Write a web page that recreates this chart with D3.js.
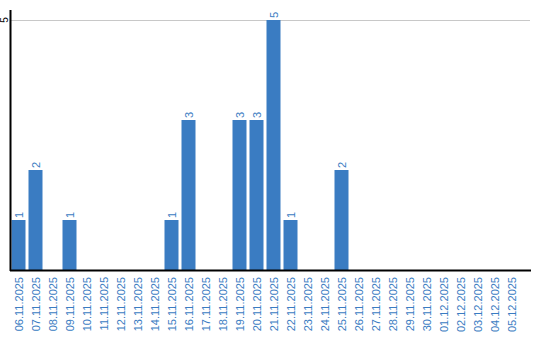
<!DOCTYPE html>
<html><head><meta charset="utf-8">
<script src="https://cdn.jsdelivr.net/npm/d3@7"></script>
<style>body{margin:0;background:#fff}svg{display:block}</style>
</head><body>
<svg id="c" width="540" height="340"></svg>
<script>
const categories = ["06.11.2025","07.11.2025","08.11.2025","09.11.2025","10.11.2025","11.11.2025","12.11.2025","13.11.2025","14.11.2025","15.11.2025","16.11.2025","17.11.2025","18.11.2025","19.11.2025","20.11.2025","21.11.2025","22.11.2025","23.11.2025","24.11.2025","25.11.2025","26.11.2025","27.11.2025","28.11.2025","29.11.2025","30.11.2025","01.12.2025","02.12.2025","03.12.2025","04.12.2025","05.12.2025"];
const values = [1,2,0,1,0,0,0,0,0,1,3,0,0,3,3,5,1,0,0,2,0,0,0,0,0,0,0,0,0,0];
const yTicks = [5];

const svg = d3.select("#c");
const color = "#3a7cc2";
const x = d3.scaleBand().domain(categories).range([10, 520]).paddingInner(3/17).paddingOuter(3/34);
const y = d3.scaleLinear().domain([0, 5]).range([270, 20]);

// gridline
svg.append("g").selectAll("line").data(yTicks).join("line")
  .attr("x1", 11).attr("x2", 530).attr("y1", d => y(d)+0.5).attr("y2", d => y(d)+0.5)
  .attr("stroke", "#c8c8c8").attr("stroke-width", 1);

// bars
svg.append("g").selectAll("rect").data(values.map((v,i)=>({c:categories[i],v}))).join("rect")
  .attr("x", d => x(d.c)).attr("width", x.bandwidth())
  .attr("y", d => y(d.v)).attr("height", d => y(0) - y(d.v))
  .attr("fill", color);

// value labels
svg.append("g").selectAll("text").data(values.map((v,i)=>({c:categories[i],v})).filter(d=>d.v>0)).join("text")
  .attr("transform", d => `translate(${x(d.c)+x.bandwidth()/2+4},${y(d.v)-2}) rotate(-90)`)
  .attr("font-family", "Liberation Sans, Arial, sans-serif").attr("font-size", 11)
  .attr("fill", color).text(d => d.v);

// x axis labels
const xAxis = d3.axisBottom(x).tickSize(0).tickPadding(0);
const gx = svg.append("g").attr("transform", "translate(0,270)").call(xAxis);
gx.select(".domain").remove();
gx.selectAll("text")
  .attr("transform", "translate(4,7) rotate(-90)")
  .attr("text-anchor", "end").attr("dy", 0).attr("y", 0)
  .attr("font-family", "Liberation Sans, Arial, sans-serif").attr("font-size", 11)
  .attr("fill", color);

// y tick label
svg.append("g").selectAll("text").data(yTicks).join("text")
  .attr("transform", d => `translate(8,${y(d)}) rotate(-90)`)
  .attr("text-anchor", "middle")
  .attr("font-family", "Liberation Sans, Arial, sans-serif").attr("font-size", 10)
  .attr("fill", "#000").text(d => d);

// axes lines
svg.append("line").attr("x1", 10.5).attr("x2", 10.5).attr("y1", 10).attr("y2", 271).attr("stroke", "#000").attr("stroke-width", 2);
svg.append("line").attr("x1", 10).attr("x2", 531).attr("y1", 270.5).attr("y2", 270.5).attr("stroke", "#000").attr("stroke-width", 2);
</script>
</body></html>
